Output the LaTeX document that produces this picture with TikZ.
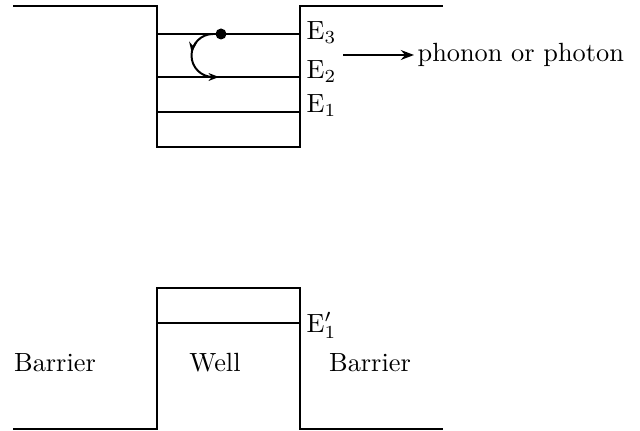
\documentclass[tikz,border=0pt]{standalone}
\usepackage{tikz}
\usetikzlibrary{arrows.meta,decorations.markings}

\begin{document}
\begin{tikzpicture}[x=0.38pt, y=0.38pt, line width=0.75pt,
    lvl/.style={font=\normalsize, anchor=base west, inner sep=1pt},
    region/.style={font=\normalsize}]
    \useasboundingbox (0,0) rectangle (640,430);

    % Upper well with three levels
    \draw (13,424) -- (157,424) -- (157,283) -- (300,283) -- (300,424) -- (443,424);
    \draw (157,396) -- (300,396);
    \draw (157,353) -- (300,353);
    \draw (157,318) -- (300,318);
    \node[lvl] (e3) at (303,390) {E$_3$};
    \node[lvl] (e2) at (303,351) {E$_2$};
    \node[lvl] (e1) at (303,317) {E$_1$};

    % Electron relaxing from E3 to E2
    \fill (221,396) circle (5.5);
    \draw[decoration={markings, mark=at position 0.42 with {\arrow{Stealth[length=4pt]}}},
          postaction={decorate}, -{Stealth[length=4pt]}]
        (213,396) arc (90:270:21.5) -- (219,353);

    % Emitted quantum
    \node[anchor=west, inner sep=1pt] (ph) at (414,375) {phonon or photon};
    \coordinate (em) at (343,375);
    \draw[-{Stealth[length=5pt]}] (em) -- (ph);

    % Lower barrier / well / barrier
    \draw (13,1) -- (157,1) -- (157,142) -- (300,142) -- (300,1) -- (443,1);
    \draw (157,107) -- (300,107);
    \node[lvl] (e1p) at (303,98) {E$'_1$};
    \node[region] (lb) at (55,67) {Barrier};
    \node[region] (well) at (215,67) {Well};
    \node[region] (rb) at (370,67) {Barrier};
\end{tikzpicture}
\end{document}
